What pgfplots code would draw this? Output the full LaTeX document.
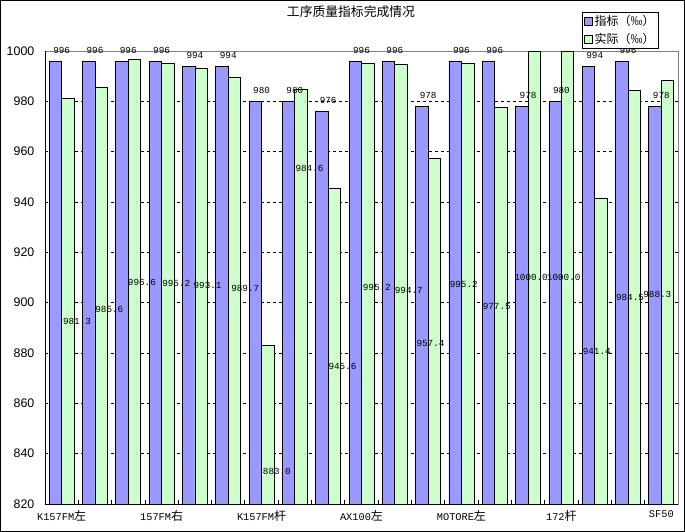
\documentclass[border=0pt]{standalone}
\usepackage{pgfplots}
\pgfplotsset{compat=1.18}
\usepackage{fontspec}
\setmainfont{Liberation Sans}
\newfontfamily\cjk{Noto Sans CJK SC}
\newfontfamily\mono{Liberation Mono}
\definecolor{barblue}{HTML}{9999FF}
\definecolor{bargreen}{HTML}{CCFFCC}
\newcommand{\xl}[2]{{\mono\fontsize{10.3}{12}\selectfont #1}{\cjk\fontsize{12}{14}\selectfont #2}}
\begin{document}
\begin{tikzpicture}
\useasboundingbox (0,0) rectangle (685pt,532pt);
\begin{axis}[
  at={(45pt,28pt)}, anchor=south west,
  width=633pt, height=453pt, scale only axis,
  clip=false,
  xmin=-0.5, xmax=18.5, ymin=820, ymax=1000,
  /pgf/number format/assume math mode=true,
  /pgf/number format/set thousands separator={},
  ytick={820,840,...,1000},
  extra y ticks={840,860,...,980},
  extra y tick labels={},
  extra y tick style={ymajorgrids=true, ytick style={draw=none}},
  grid style={black, line width=0.7pt, dash pattern=on 3pt off 3pt},
  xtick={0,...,18},
  xticklabels={\xl{K157FM}{左},,,\xl{157FM}{右},,,\xl{K157FM}{杆},,,\xl{AX100}{左},,,\xl{MOTORE}{左},,,\xl{172}{杆},,,\xl{SF50}{}},
  minor xtick={-0.5,0.5,...,18.5},
  xtick pos=left, ytick pos=left,
  major x tick style={draw=none},
  minor x tick style={black, line width=0.8pt},
  minor tick length=4pt,
  ytick style={draw=none},
  axis line style={draw=gray, line width=0.8pt},
  yticklabel style={font=\fontsize{12.4}{14}\selectfont, anchor=east, inner sep=0pt, xshift=-10.5pt},
  xticklabel style={anchor=north, inner sep=0pt, yshift=-6pt},
  title={\cjk\fontsize{12.8}{15}\selectfont 工序质量指标完成情况},
  title style={at={(axis description cs:0.4834,1)}, anchor=center, yshift=33pt, inner sep=0pt},
  legend style={at={(axis description cs:0.8483,1.0861)}, anchor=north west, draw=black, line width=0.8pt, fill=white,
    font=\cjk\fontsize{12}{14}\selectfont, inner xsep=2pt, inner ysep=1.7pt, row sep=2.7pt,
    nodes={inner sep=1.5pt}},
  legend cell align=left,
]
\addplot[ybar, bar width=0.375, bar shift=-0.1875, fill=barblue, draw=black, line width=0.8pt,
  legend image code/.code={\draw[fill=barblue, draw=black, line width=0.8pt] (0pt,-4pt) rectangle (8pt,4pt);},
  nodes near coords,
  every node near coord/.append style={font=\mono\fontsize{9.3}{11}\selectfont, text=black, inner sep=0pt, yshift=7pt}]
  coordinates {(0,996) (1,996) (2,996) (3,996) (4,994) (5,994) (6,980) (7,980) (8,976) (9,996)
    (10,996) (11,978) (12,996) (13,996) (14,978) (15,980) (16,994) (17,996) (18,978)};
\addlegendentry{指标（‰）\hspace{7pt}}
\addplot[ybar, bar width=0.375, bar shift=0.1875, fill=bargreen, draw=black, line width=0.8pt,
  legend image code/.code={\draw[fill=bargreen, draw=black, line width=0.8pt] (0pt,-4pt) rectangle (8pt,4pt);}]
  coordinates {(0,981.3) (1,985.6) (2,996.6) (3,995.2) (4,993.1) (5,989.7) (6,883.0) (7,984.6) (8,945.6) (9,995.2)
    (10,994.7) (11,957.4) (12,995.2) (13,977.5) (14,1000.0) (15,1000.0) (16,941.4) (17,984.5) (18,988.3)};
\addlegendentry{实际（‰）\hspace{7pt}}
\addplot[draw=none, forget plot, nodes near coords, point meta=explicit symbolic,
  every node near coord/.append style={font=\mono\fontsize{9.3}{11}\selectfont, text=black, inner sep=0pt, anchor=center}]
  table[meta=lab, row sep=\\] {
  x y lab\\
  0.46 892.4 981.3\\
  1.43 897.5 985.6\\
  2.41 908.1 996.6\\
  3.44 907.7 995.2\\
  4.38 906.7 993.1\\
  5.51 905.8 989.7\\
  6.46 832.8 883.0\\
  7.44 953.4 984.6\\
  8.43 874.8 945.6\\
  9.46 906.0 995.2\\
  10.42 905.0 994.7\\
  11.07 883.9 957.4\\
  12.07 907.4 995.2\\
  13.06 898.4 977.5\\
  14.09 910.1 1000.0\\
  15.07 910.1 1000.0\\
  16.06 880.5 941.4\\
  17.06 902.1 984.5\\
  17.88 903.3 988.3\\
  };
\draw[black, line width=0.8pt] (rel axis cs:0,1) -- (rel axis cs:0,0) -- (rel axis cs:1,0);
\end{axis}
\draw[black, line width=1pt] (0.5pt,0.5pt) rectangle (684.5pt,531.5pt);
\end{tikzpicture}
\end{document}
